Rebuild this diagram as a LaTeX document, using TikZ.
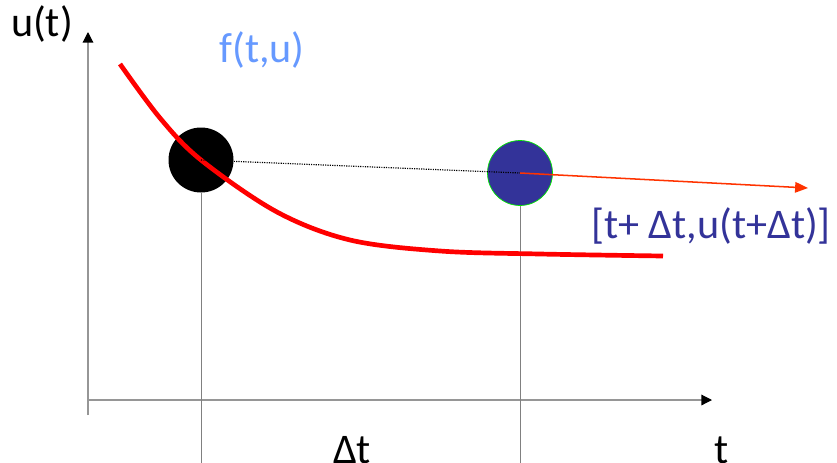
\documentclass[tikz,border=0pt]{standalone}
\usepackage{fontspec}
\setmainfont{Carlito}
\usetikzlibrary{arrows.meta}
\definecolor{caxis}{RGB}{150,150,150}
\definecolor{cgrid}{RGB}{128,128,128}
\definecolor{cred}{RGB}{255,0,0}
\definecolor{corange}{RGB}{255,51,0}
\definecolor{cnavy}{RGB}{51,51,153}
\definecolor{clight}{RGB}{102,153,255}
\definecolor{cgreen}{RGB}{0,230,0}
\begin{document}
\begin{tikzpicture}[x=0.03cm,y=-0.03cm,
        lbl/.style={font=\fontsize{36}{42}\selectfont,inner sep=0pt,anchor=base},
        dot/.style={circle,inner sep=0pt,minimum size=1.95cm},
        axis/.style={draw=caxis,line width=1pt,-{Triangle[black,length=9pt,width=9pt]}}]
      \useasboundingbox (0,0) rectangle (837,462);
      % axes
      \coordinate (o) at (88,400);
      \coordinate (ytip) at (88,32);
      \coordinate (xtip) at (712,400);
      \draw[axis] (88,415) -- (ytip);
      \draw[axis] (o) -- (xtip);
      % the two time steps
      \node[dot,fill=black] (p0) at (201,160) {};
      \node[dot,fill=cnavy,draw=cgreen,line width=0.6pt] (p1) at (520,173) {};
      \foreach \p in {p0,p1}
        \draw[cgrid,line width=0.8pt] (\p.south) -- (\p.south |- 0,470);
      % the solution curve
      \draw[cred,line width=4pt] plot[smooth,tension=0.55] coordinates
        {(120,64) (160,118) (201,160) (277,212) (350,240) (440,251) (540,254) (663,256)};
      % slope step
      \draw[densely dotted,line width=1pt] (p0.center) -- (p1.center);
      \coordinate (slope) at (808,188);
      \draw[corange,line width=1.3pt,-{Triangle[length=11pt,width=9pt]}] (p1.center) -- (slope);
      % labels
      \node[lbl] (ulab) at (42,36) {u(t)};
      \node[lbl,text=clight] (flab) at (262,62) {f(t,u)};
      \node[lbl,text=cnavy] (nextlab) at (711,238) {[t+ Δt,u(t+Δt)]};
      \node[lbl] (dtlab) at (352,463) {Δt};
      \node[lbl] (tlab) at (722,463) {t};
    \end{tikzpicture}
\end{document}
